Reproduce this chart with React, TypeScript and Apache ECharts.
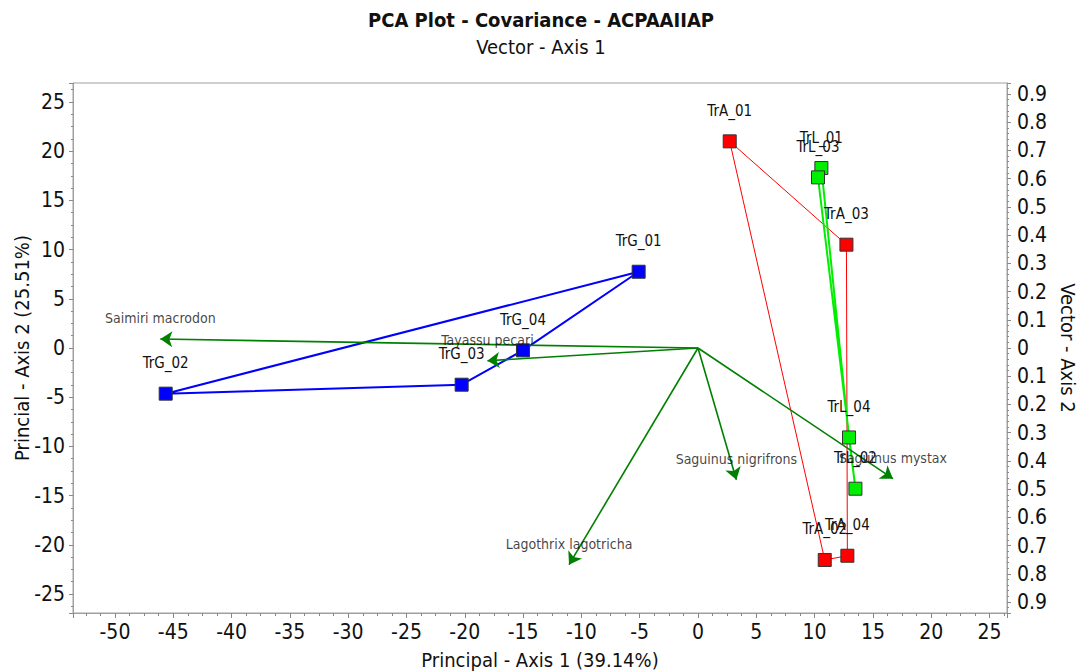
import React, { useEffect, useRef } from "react";
import * as echarts from "echarts";

const FONT = "'Liberation Sans Narrow', 'Arial Narrow', 'DejaVu Sans Condensed', sans-serif";

// Group TrA (red)
const trANames = ["TrA_01", "TrA_02", "TrA_03", "TrA_04"];
const trAX = [2.72, 10.87, 12.73, 12.81];
const trAY = [21.0, -21.54, 10.5, -21.11];
const trAOrder = [0, 2, 3, 1];

// Group TrL (green)
const trLNames = ["TrL_01", "TrL_02", "TrL_03", "TrL_04"];
const trLX = [10.58, 13.5, 10.29, 12.95];
const trLY = [18.29, -14.3, 17.34, -9.09];
const trLOrder = [0, 3, 1, 2];

// Group TrG (blue)
const trGNames = ["TrG_01", "TrG_02", "TrG_03", "TrG_04"];
const trGX = [-5.09, -45.65, -20.27, -15.01];
const trGY = [7.75, -4.64, -3.73, -0.24];
const trGOrder = [1, 0, 3, 2];

// Vectors (species)
const vecNames = ["Saimiri macrodon", "Tayassu pecari", "Lagothrix lagotricha", "Saguinus nigrifrons", "Saguinus mystax"];
const vecX = [-46.11, -18.06, -11.06, 3.29, 16.72];
const vecY = [0.91, -1.29, -22.02, -13.38, -13.28];

const titleText = "PCA Plot - Covariance - ACPAAIIAP";
const subtitleText = "Vector - Axis 1";
const xName = "Principal - Axis 1 (39.14%)";
const yName = "Princial - Axis 2 (25.51%)";
const y2Name = "Vector - Axis 2";

function polygon(xs: number[], ys: number[], order: number[]) {
  const pts = order.map((i) => [xs[i], ys[i]]);
  pts.push(pts[0]);
  return pts;
}

function points(xs: number[], ys: number[], names: string[]) {
  return names.map((n, i) => ({ name: n, value: [xs[i], ys[i]] }));
}

export default function App() {
  const ref = useRef<HTMLDivElement>(null);
  useEffect(() => {
    if (!ref.current) return;
    const chart = echarts.init(ref.current, null, { renderer: "svg" });
    const axisGray = "#a0a0a0";
    const tickLabel = { fontFamily: FONT, fontSize: 21, color: "#111" };
    const groups = [
      { names: trANames, xs: trAX, ys: trAY, order: trAOrder, color: "#ff0000", width: 1 },
      { names: trLNames, xs: trLX, ys: trLY, order: trLOrder, color: "#00ee00", width: 2 },
      { names: trGNames, xs: trGX, ys: trGY, order: trGOrder, color: "#0000ff", width: 2 },
    ];
    const series: any[] = [];
    groups.forEach((g) => {
      series.push({
        type: "line",
        data: polygon(g.xs, g.ys, g.order),
        symbol: "none",
        lineStyle: { color: g.color, width: g.width },
        z: 1,
        silent: true,
      });
    });
    series.push({
      type: "lines",
      coordinateSystem: "cartesian2d",
      data: vecNames.map((n, i) => ({ coords: [[0, 0], [vecX[i], vecY[i]]] })),
      symbol: ["none", "arrow"],
      symbolSize: 12,
      lineStyle: { color: "#008000", width: 1.6, opacity: 1 },
      z: 2,
    });
    series.push({
      type: "scatter",
      data: vecNames.map((n, i) => ({ name: n, value: [vecX[i], vecY[i]] })),
      symbolSize: 0,
      label: {
        show: true,
        position: "top",
        distance: 14,
        formatter: "{b}",
        fontFamily: FONT,
        fontSize: 14,
        color: "#111",
      },
      z: 4,
    });
    groups.forEach((g) => {
      series.push({
        type: "scatter",
        data: points(g.xs, g.ys, g.names),
        symbol: "rect",
        symbolSize: 13,
        itemStyle: { color: g.color, borderColor: "#333", borderWidth: 1, opacity: 1 },
        label: {
          show: true,
          position: "top",
          distance: 16,
          formatter: "{b}",
          fontFamily: FONT,
          fontSize: 15,
          color: "#111",
        },
        z: 3,
      });
    });

    chart.setOption({
      animation: false,
      backgroundColor: "#ffffff",
      title: {
        text: titleText,
        subtext: subtitleText,
        left: "center",
        top: 3,
        itemGap: 3,
        textStyle: { fontFamily: FONT, fontSize: 20, fontWeight: "bold", color: "#111", lineHeight: 24 },
        subtextStyle: { fontFamily: FONT, fontSize: 20, color: "#111", lineHeight: 24 },
      },
      grid: {
        left: 73,
        top: 83,
        right: 75,
        bottom: 59,
        outerBoundsMode: "none",
        containLabel: false,
        show: true,
        borderColor: axisGray,
        borderWidth: 1,
        backgroundColor: "#fff",
      },
      xAxis: {
        type: "value",
        min: -53.6,
        max: 26.5,
        minInterval: 5,
        maxInterval: 5,
        splitNumber: 16,
        name: xName,
        nameLocation: "middle",
        nameGap: 37,
        nameMoveOverlap: false,
        nameTextStyle: { fontFamily: FONT, fontSize: 20, color: "#111" },
        axisLine: { show: true, onZero: false, lineStyle: { color: axisGray } },
        axisTick: { show: true, length: 5, lineStyle: { color: "#888" } },
        minorTick: { show: true, splitNumber: 4, length: 3, lineStyle: { color: "#888" } },
        axisLabel: { ...tickLabel, margin: 8, showMinLabel: false, showMaxLabel: false },
        splitLine: { show: false },
      },
      yAxis: [
        {
          type: "value",
          min: -26.93,
          max: 26.93,
          minInterval: 5,
          maxInterval: 5,
          splitNumber: 10,
          name: yName,
          nameLocation: "middle",
          nameGap: 41,
          nameMoveOverlap: false,
          nameTextStyle: { fontFamily: FONT, fontSize: 20, color: "#111" },
          axisLine: { show: true, onZero: false, lineStyle: { color: axisGray } },
          axisTick: { show: true, length: 4, lineStyle: { color: "#888" } },
          minorTick: { show: true, splitNumber: 4, length: 2, lineStyle: { color: "#888" } },
          axisLabel: { ...tickLabel, margin: 8, showMinLabel: false, showMaxLabel: false },
          splitLine: { show: false },
        },
        {
          type: "value",
          position: "right",
          min: -0.939,
          max: 0.939,
          minInterval: 0.1,
          maxInterval: 0.1,
          splitNumber: 18,
          name: y2Name,
          nameLocation: "middle",
          nameRotate: -90,
          nameGap: 50,
          nameTextStyle: { fontFamily: FONT, fontSize: 20, color: "#111" },
          axisLine: { show: true, onZero: false, lineStyle: { color: axisGray } },
          axisTick: { show: true, length: 4, lineStyle: { color: "#888" } },
          minorTick: { show: true, splitNumber: 5, length: 2, lineStyle: { color: "#888" } },
          axisLabel: {
            ...tickLabel,
            margin: 10,
            showMinLabel: false,
            showMaxLabel: false,
            formatter: (v: number) => {
              const a = Math.abs(v);
              return a < 1e-9 ? "0" : a.toFixed(1);
            },
          },
          splitLine: { show: false },
        },
      ],
      series,
    });
    return () => chart.dispose();
  }, []);
  return <div ref={ref} style={{ position: "fixed", left: 0, top: 0, width: 1082, height: 672 }} />;
}
